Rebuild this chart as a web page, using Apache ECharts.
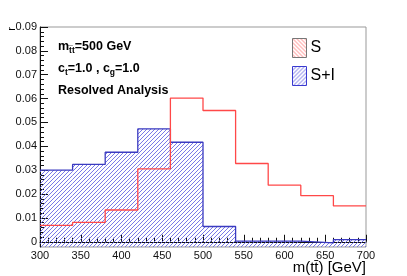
<!DOCTYPE html>
<html><head><meta charset="utf-8">
<script src="https://cdn.jsdelivr.net/npm/echarts@6/dist/echarts.min.js"></script>
<style>html,body{margin:0;padding:0;background:#fff}#c{width:407px;height:276px}</style>
</head><body><div id="c"></div>
<script>
// ---- data ----
const binEdges = [300, 340, 380, 420, 460, 500, 540, 580, 620, 660, 700];
const sValues  = [0.0069, 0.0081, 0.0133, 0.0305, 0.0602, 0.0550, 0.0328, 0.0237, 0.0193, 0.0150];
const siValues = [0.0300, 0.0324, 0.0375, 0.0473, 0.0417, 0.0064, 0.0003, 0.0003, -0.0005, 0.0009];
const yTickLabels = [0, 0.01, 0.02, 0.03, 0.04, 0.05, 0.06, 0.07, 0.08, 0.09];
const yMinorTicks = [0, 0.002, 0.004, 0.006, 0.008, 0.01, 0.012, 0.014, 0.016, 0.018, 0.02, 0.022, 0.024, 0.026, 0.028, 0.03, 0.032, 0.034, 0.036, 0.038, 0.04, 0.042, 0.044, 0.046, 0.048, 0.05, 0.052, 0.054, 0.056, 0.058, 0.06, 0.062, 0.064, 0.066, 0.068, 0.07, 0.072, 0.074, 0.076, 0.078, 0.08, 0.082, 0.084, 0.086, 0.088, 0.09];
const xTickLabels = [300, 350, 400, 450, 500, 550, 600, 650, 700];
const seriesNames = ['S', 'S+I'];
const Y_MIN = -0.0022, Y_MAX = 0.09;

function stepData(vals) {
  const d = vals.map((v, i) => [binEdges[i], v]);
  d.push([binEdges[binEdges.length - 1], vals[vals.length - 1]]);
  return d;
}
function hatchCanvas(color, dir) {
  const c = document.createElement('canvas');
  c.width = 8; c.height = 8;
  const g = c.getContext('2d');
  g.strokeStyle = color; g.lineWidth = 1;
  g.beginPath();
  if (dir > 0) {
    for (let k = -8; k <= 16; k += 4) { g.moveTo(k - 1, 9); g.lineTo(k + 9, -1); }
  } else {
    for (let k = -8; k <= 16; k += 4) { g.moveTo(k - 1, -1); g.lineTo(k + 9, 9); }
  }
  g.stroke();
  return c;
}
function hatch(color, dir) { return { image: hatchCanvas(color, dir), repeat: 'repeat' }; }
const HATCH_BLUE = '#6a6ae4';
const blueHatchLeg = hatch(HATCH_BLUE, 1);
const redHatchLeg = hatch('#ff7a7a', -1);

// annotation text with subscripts
const mctx = document.createElement('canvas').getContext('2d');
const FONT_B = 'bold 12.5px "Liberation Sans", Arial, sans-serif';
const FONT_SUB = 'bold 8.5px "Liberation Sans", Arial, sans-serif';
function richLine(segs, x0, y) {
  const els = [];
  let x = x0;
  segs.forEach(([t, sub]) => {
    const f = sub ? FONT_SUB : FONT_B;
    mctx.font = f;
    els.push({ type: 'text', x: x, y: sub ? y + 4 : y,
      style: { text: t, font: f, fill: '#000', align: 'left', verticalAlign: 'middle' } });
    x += mctx.measureText(t).width;
  });
  return els;
}
const annot = [].concat(
  richLine([['m', 0], ['t\u0305t', 1], ['=500 GeV', 0]], 58, 46.5),
  richLine([['c', 0], ['t', 1], ['=1.0 , c', 0], ['g', 1], ['=1.0', 0]], 58, 68.5),
  richLine([['Resolved Analysis', 0]], 58, 90.5)
);

const chart = echarts.init(document.getElementById('c'), null, { renderer: 'canvas' });
const FONT = '"Liberation Sans", Arial, sans-serif';
chart.setOption({
  animation: false,
  backgroundColor: '#fff',
  grid: { left: 40, right: 41, top: 27, bottom: 29, show: true, borderColor: '#999', borderWidth: 1, backgroundColor: 'transparent' },
  legend: {
    left: 287, top: 33, orient: 'vertical', itemWidth: 14, itemHeight: 19, itemGap: 8,
    icon: 'rect',
    textStyle: { fontSize: 16, fontFamily: FONT, color: '#000', padding: [0, 0, 0, -1] },
    data: [
      { name: seriesNames[0], itemStyle: { color: redHatchLeg, borderColor: '#777', borderWidth: 1 } },
      { name: seriesNames[1], itemStyle: { color: blueHatchLeg, borderColor: '#3a3ad0', borderWidth: 1 } }
    ]
  },
  xAxis: {
    type: 'value', min: 300, max: 700, interval: 50,
    axisLine: { show: true, lineStyle: { color: '#111', width: 1 } },
    axisTick: { show: true, inside: true, length: 7, lineStyle: { color: '#111' } },
    minorTick: { show: true, splitNumber: 5, length: 4, lineStyle: { color: '#111' } },
    splitLine: { show: false },
    axisLabel: { fontSize: 11, fontFamily: FONT, color: '#111', margin: 3, customValues: xTickLabels }
  },
  yAxis: [{
    type: 'value', min: Y_MIN, max: Y_MAX,
    axisLine: { show: true, lineStyle: { color: '#111', width: 1 } },
    axisTick: { show: true, inside: true, length: 8, lineStyle: { color: '#111' }, customValues: yTickLabels },
    splitLine: { show: false },
    axisLabel: { fontSize: 11, fontFamily: FONT, color: '#111', margin: 3, customValues: yTickLabels,
      formatter: v => (Math.abs(v) < 1e-9 ? '0' : v.toFixed(2)) }
  }, {
    type: 'value', min: Y_MIN, max: Y_MAX, position: 'left',
    axisLine: { show: false },
    axisTick: { show: true, inside: true, length: 4, lineStyle: { color: '#111' }, customValues: yMinorTicks },
    axisLabel: { show: false },
    splitLine: { show: false }
  }],
  series: [
    {
      name: seriesNames[1], type: 'custom', z: 1, clip: true,
      data: siValues.map((v, i) => [binEdges[i], binEdges[i + 1], v]),
      encode: { x: [0, 1], y: 2 },
      renderItem: function (params, api) {
        const p0 = api.coord([api.value(0), Y_MIN]);
        const p1 = api.coord([api.value(1), api.value(2)]);
        const x0 = p0[0], x1 = p1[0], yb = p0[1], yt = p1[1];
        const kids = [];
        const step = 4;
        const cStart = Math.floor((x0 + yt) / step) * step;
        for (let c = cStart; c <= x1 + yb + step; c += step) {
          let ya = yb, xa = c - yb;
          if (xa < x0) { xa = x0; ya = c - x0; }
          let yz = yt, xz = c - yt;
          if (xz > x1) { xz = x1; yz = c - x1; }
          if (ya < yt || yz > yb || xa > x1 || xz < x0) continue;
          kids.push({ type: 'line', shape: { x1: xa, y1: ya, x2: xz, y2: yz },
            style: { stroke: HATCH_BLUE, lineWidth: 0.9, fill: null }, silent: true });
        }
        return { type: 'group', children: kids };
      }
    },
    {
      name: seriesNames[1], type: 'line', step: 'end', data: stepData(siValues),
      symbol: 'none', z: 2,
      lineStyle: { color: '#3a3ac0', width: 1.3 },
      itemStyle: { color: '#3a3ac0' }
    },
    {
      name: seriesNames[0], type: 'line', step: 'end', data: stepData(sValues),
      symbol: 'none', z: 3,
      lineStyle: { color: '#ff4848', width: 1.3 },
      itemStyle: { color: '#ff4848' }
    }
  ],
  graphic: annot.concat([
    { type: 'text', x: 366, y: 268,
      style: { text: 'm(tt\u0304) [GeV]', font: '15px ' + FONT, fill: '#000', align: 'right', verticalAlign: 'middle' } },
    { type: 'text', x: 12, y: 27, rotation: Math.PI / 2,
      style: { text: 'r', font: '11px ' + FONT, fill: '#000', align: 'right', verticalAlign: 'middle' } }
  ])
});
</script>
</body></html>
